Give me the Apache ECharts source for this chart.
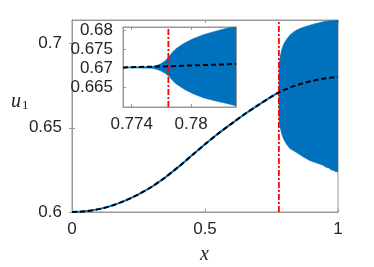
<!DOCTYPE html>
<html><head><meta charset="utf-8">
<script src="https://cdn.jsdelivr.net/npm/echarts@6/dist/echarts.min.js"></script>
<style>html,body{margin:0;padding:0;background:#fff}#c{width:374px;height:267px}</style>
</head><body><div id="c"></div>
<script>
// main curve (x, u1 mean)
const mainX = [0, 0.05, 0.1, 0.15, 0.2, 0.25, 0.3, 0.35, 0.4, 0.45, 0.5, 0.55, 0.6, 0.65, 0.7, 0.75, 0.7777, 0.8, 0.85, 0.9, 0.95, 1.0];
const mainU = [0.6000, 0.6004, 0.6017, 0.6038, 0.6068, 0.6105, 0.6150, 0.6205, 0.6268, 0.6335, 0.6402, 0.6466, 0.6525, 0.6582, 0.6635, 0.6685, 0.6710, 0.6727, 0.6756, 0.6777, 0.6793, 0.6803];
// oscillation envelope, main plot
const bandX = [0.7777, 0.7785, 0.7830, 0.788, 0.794, 0.8005, 0.810, 0.819, 0.832, 0.845, 0.857, 0.870, 0.895, 0.907, 0.925, 0.944, 0.955, 0.965, 0.975, 0.982, 0.990, 1.0];
const bandUpper = [0.6712, 0.6872, 0.6925, 0.6961, 0.6990, 0.7010, 0.7032, 0.7050, 0.7068, 0.7080, 0.7090, 0.7097, 0.7109, 0.7115, 0.7122, 0.7129, 0.7132, 0.7134, 0.7136, 0.7137, 0.7139, 0.7140];
const bandLower = [0.6708, 0.6545, 0.6500, 0.6466, 0.6440, 0.6418, 0.6395, 0.6377, 0.6365, 0.6352, 0.6340, 0.6327, 0.6305, 0.6298, 0.6288, 0.6278, 0.6265, 0.6262, 0.6250, 0.6248, 0.6240, 0.6238];
// inset
const insetMeanX = [0.77312, 0.7777, 0.78453];
const insetMean = [0.6702, 0.6705, 0.6711];
const insetBandX = [0.77312, 0.7760, 0.7765, 0.7770, 0.7774, 0.7777, 0.7781, 0.7785, 0.7793, 0.7802, 0.7813, 0.7825, 0.7835, 0.78453];
const insetUpper = [0.6703, 0.6704, 0.6707, 0.6712, 0.6720, 0.6728, 0.6742, 0.6752, 0.6766, 0.6778, 0.6789, 0.6798, 0.6805, 0.6810];
const insetLower = [0.6701, 0.6700, 0.6697, 0.6692, 0.6686, 0.6680, 0.6668, 0.6658, 0.6644, 0.6632, 0.6621, 0.6613, 0.6607, 0.6600];
const thresholdX = 0.7777;
// ticks
const mainXTicks = [0, 0.5, 1];
const mainYTicks = [0.6, 0.65, 0.7];
const insetXTicks = [0.774, 0.78];
const insetYTicks = [0.665, 0.67, 0.675, 0.68];
const mainXRange = [0, 1], mainYRange = [0.6, 0.714];
const insetXRange = [0.77312, 0.78453], insetYRange = [0.6597, 0.6809];

const BLUE = '#0072BD';
const pairs = (xs, ys) => xs.map((x, i) => [x, ys[i]]);
const rows3 = (xs, a, b) => xs.map((x, i) => [x, a[i], b[i]]);
const upTo = (xs, ys, lim) => pairs(xs, ys).filter(p => p[0] <= lim + 1e-9);

const labelStyle = {color: '#262626', fontSize: 17, fontFamily: 'Liberation Sans, Arial, sans-serif'};
function axes(grid, xr, yr, xt, yt, fmtX, fmtY) {
  return {
    x: {type: 'value', gridIndex: grid, min: xr[0], max: xr[1],
      axisLine: {show: true, lineStyle: {color: '#999'}},
      axisTick: {show: true, inside: true, length: 3, lineStyle: {color: '#999'}, customValues: xt},
      axisLabel: Object.assign({margin: 9, customValues: xt, formatter: fmtX}, labelStyle),
      splitLine: {show: false}},
    y: {type: 'value', gridIndex: grid, min: yr[0], max: yr[1],
      axisLine: {show: true, lineStyle: {color: '#999'}},
      axisTick: {show: true, inside: true, length: 3, lineStyle: {color: '#999'}, customValues: yt},
      axisLabel: Object.assign({margin: 10, customValues: yt, formatter: fmtY}, labelStyle),
      splitLine: {show: false}}
  };
}
function mirror(grid, xr, yr, xt, yt, z) {
  const common = {type: 'value', gridIndex: grid, z: z, axisLine: {show: true, lineStyle: {color: '#999'}},
    axisLabel: {show: false}, splitLine: {show: false}};
  return {
    x: Object.assign({}, common, {position: 'top', min: xr[0], max: xr[1],
      axisTick: {show: true, inside: true, length: 3, lineStyle: {color: '#999'}, customValues: xt}}),
    y: Object.assign({}, common, {position: 'right', min: yr[0], max: yr[1],
      axisTick: {show: true, inside: true, length: 3, lineStyle: {color: '#999'}, customValues: yt}})
  };
}
const fmt = v => String(+v.toFixed(4));
const A0 = axes(0, mainXRange, mainYRange, mainXTicks, mainYTicks, fmt, fmt);
const A1 = axes(1, insetXRange, insetYRange, insetXTicks, insetYTicks, fmt, fmt);
const M0 = mirror(0, mainXRange, mainYRange, mainXTicks, mainYTicks, 0);
const M1 = mirror(1, insetXRange, insetYRange, insetXTicks, insetYTicks, 6);

function bandSeries(xi, rows, z) {
  return {
    type: 'custom', xAxisIndex: xi, yAxisIndex: xi, z: z, clip: true,
    data: rows,
    encode: {x: 0, y: [1, 2]},
    renderItem: function (params, api) {
      if (params.dataIndex !== 0) return;
      const up = rows.map(r => api.coord([r[0], r[1]]));
      const lo = rows.map(r => api.coord([r[0], r[2]])).reverse();
      return {type: 'polygon', shape: {points: up.concat(lo)},
        style: {fill: BLUE, stroke: BLUE, lineWidth: 0.6}};
    }
  };
}

const chart = echarts.init(document.getElementById('c'), null, {renderer: 'canvas'});
chart.setOption({
  animation: false,
  grid: [
    {left: 72, top: 20, width: 266, height: 192, show: true, borderColor: '#999', borderWidth: 1, backgroundColor: '#fff'},
    {left: 123, top: 27, width: 113, height: 80, show: true, borderColor: '#999', borderWidth: 1, backgroundColor: '#fff', z: 5}
  ],
  xAxis: [A0.x, Object.assign(A1.x, {z: 6}), M0.x, M1.x],
  yAxis: [A0.y, Object.assign(A1.y, {z: 6}), M0.y, M1.y],
  series: [
    // main
    {type: 'line', xAxisIndex: 0, yAxisIndex: 0, data: upTo(mainX, mainU, thresholdX), smooth: 0.3, showSymbol: false, lineStyle: {color: BLUE, width: 2}},
    bandSeries(0, rows3(bandX, bandUpper, bandLower), 2),
    {type: 'line', xAxisIndex: 0, yAxisIndex: 0, data: [[thresholdX, mainYRange[0]], [thresholdX, mainYRange[1]]], showSymbol: false, lineStyle: {color: '#ff0000', width: 1.8, type: [6, 2, 2, 2]}, z: 3},
    {type: 'line', xAxisIndex: 0, yAxisIndex: 0, data: pairs(mainX, mainU), smooth: 0.3, showSymbol: false, lineStyle: {color: '#000', width: 2, type: [5, 3]}, z: 4},
    // inset
    {type: 'line', xAxisIndex: 1, yAxisIndex: 1, data: upTo(insetMeanX, insetMean, 0.7765), showSymbol: false, lineStyle: {color: BLUE, width: 2}, z: 7},
    bandSeries(1, rows3(insetBandX, insetUpper, insetLower), 7),
    {type: 'line', xAxisIndex: 1, yAxisIndex: 1, data: [[thresholdX, insetYRange[0]], [thresholdX, insetYRange[1]]], showSymbol: false, lineStyle: {color: '#ff0000', width: 1.8, type: [6, 2, 2, 2]}, z: 8},
    {type: 'line', xAxisIndex: 1, yAxisIndex: 1, data: pairs(insetMeanX, insetMean), showSymbol: false, lineStyle: {color: '#000', width: 2, type: [5, 3]}, z: 9}
  ],
  graphic: [
    {type: 'text', left: 200, top: 245, style: {text: 'x', font: 'italic 20px "Liberation Serif", "DejaVu Serif", serif', fill: '#262626'}},
    {type: 'text', left: 11, top: 92, style: {text: '{u|u}{s|1}', rich: {
      u: {font: 'italic 20px "Liberation Serif", "DejaVu Serif", serif', fill: '#262626', verticalAlign: 'bottom'},
      s: {font: '13px "Liberation Serif", "DejaVu Serif", serif', fill: '#262626', padding: [8, 0, 0, 1]}}}}
  ]
});
</script></body></html>
